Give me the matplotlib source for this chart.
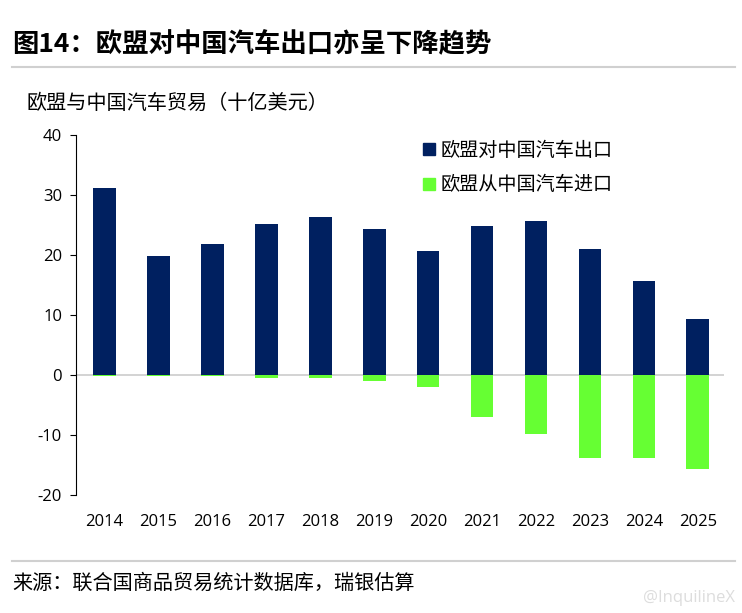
import numpy as np
import matplotlib
matplotlib.use("Agg")
import matplotlib.pyplot as plt
from matplotlib.lines import Line2D

plt.rcParams['font.family'] = ['Open Sans', 'Noto Sans CJK SC', 'DejaVu Sans']
CJK = ['Noto Sans CJK SC', 'DejaVu Sans']

# --- Data ---
years = ['2014', '2015', '2016', '2017', '2018', '2019',
         '2020', '2021', '2022', '2023', '2024', '2025']
exports = [31.2, 19.8, 21.8, 25.2, 26.3, 24.3, 20.7, 24.8, 25.7, 21.0, 15.7, 9.4]
imports = [-0.1, -0.1, -0.1, -0.45, -0.55, -1.0, -2.0, -7.0, -9.9, -13.9, -13.8, -15.7]
ytick_vals = [-20, -10, 0, 10, 20, 30, 40]

NAVY = '#002060'
GREEN = '#66FF33'

fig = plt.figure(figsize=(7.42, 6.13), dpi=100)
ax = fig.add_axes([0.1024, 0.1925, 0.8736, 0.5873])

x = np.arange(len(years))
ax.bar(x, exports, width=0.42, color=NAVY, zorder=2)
ax.bar(x, imports, width=0.42, color=GREEN, zorder=2)
ax.axhline(0, color='#cccccc', lw=1.2, zorder=1)

ax.set_xlim(-0.53, 11.49)
ax.set_ylim(-20, 40)
ax.set_yticks(ytick_vals)
ax.set_yticklabels([str(v) for v in ytick_vals])
ax.set_xticks(x)
ax.set_xticklabels(years)
ax.tick_params(axis='x', length=0, labelsize=12, pad=14)
ax.tick_params(axis='y', labelsize=12, length=4, direction='out', pad=6)
for s in ['top', 'right', 'bottom']:
    ax.spines[s].set_visible(False)
ax.spines['left'].set_color('#000000')

handles = [Line2D([], [], marker='s', ls='', color=NAVY, markersize=8),
           Line2D([], [], marker='s', ls='', color=GREEN, markersize=8)]
ax.legend(handles, ['欧盟对中国汽车出口', '欧盟从中国汽车进口'],
          loc='upper left', bbox_to_anchor=(0.50, 1.035), frameon=False,
          prop={'family': CJK, 'size': 13.8}, handletextpad=0.0,
          labelspacing=0.72, handlelength=1.2)

# --- Texts ---
fig.text(0.016, 0.927, '图14：欧盟对中国汽车出口亦呈下降趋势', fontsize=19,
         fontweight='bold', va='center', ha='left', family=CJK)
fig.add_artist(Line2D([0.016, 0.99], [0.89, 0.89], color='#d0d0d0', lw=1.5))
fig.text(0.036, 0.832, '欧盟与中国汽车贸易（十亿美元）', fontsize=14.5,
         va='center', ha='left', family=CJK)
fig.add_artist(Line2D([0.016, 0.99], [0.085, 0.085], color='#d0d0d0', lw=1.5))
fig.text(0.016, 0.048, '来源：联合国商品贸易统计数据库，瑞银估算', fontsize=14.5,
         va='center', ha='left', family=CJK)
fig.text(0.99, 0.025, '@InquilineX', fontsize=12, color='#dddddd',
         va='center', ha='right')

fig.savefig('out.png', dpi=100)
